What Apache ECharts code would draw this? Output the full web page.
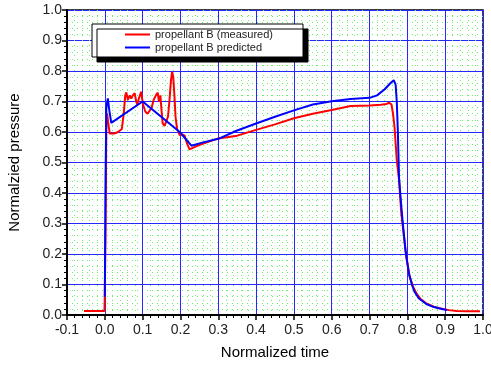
<!DOCTYPE html>
<html>
<head>
<meta charset="utf-8">
<script src="https://cdn.jsdelivr.net/npm/echarts@6/dist/echarts.min.js"></script>
<style>
  html, body { margin: 0; padding: 0; background: #fff; }
  #chart { width: 491px; height: 365px; }
</style>
</head>
<body>
<div id="chart"></div>
<script>
// Normalized time samples and pressure for the measured trace
const measuredTime = [-0.055, -0.001, 0.0, 0.002, 0.003, 0.004, 0.006, 0.009, 0.013, 0.017, 0.025, 0.035, 0.045,
  0.05, 0.054, 0.057, 0.061, 0.066, 0.07, 0.074, 0.079, 0.083, 0.086, 0.09, 0.096, 0.101, 0.107, 0.113, 0.118,
  0.124, 0.129, 0.135, 0.14, 0.143, 0.147, 0.15, 0.153, 0.158, 0.162, 0.167, 0.171, 0.175, 0.178, 0.181, 0.184,
  0.187, 0.191, 0.198, 0.205, 0.211, 0.218, 0.224, 0.24, 0.26, 0.3, 0.35, 0.4, 0.45, 0.5, 0.55, 0.6, 0.65, 0.7,
  0.73, 0.745, 0.752, 0.758, 0.762, 0.766, 0.772, 0.778, 0.784, 0.79, 0.797, 0.806, 0.815, 0.824, 0.835, 0.85,
  0.87, 0.885, 0.91, 0.93, 0.96, 0.992];
const measuredPressure = [0.013, 0.013, 0.065, 0.30, 0.45, 0.62, 0.66, 0.63, 0.595, 0.59, 0.595, 0.60, 0.61,
  0.66, 0.72, 0.73, 0.705, 0.72, 0.71, 0.72, 0.727, 0.70, 0.69, 0.71, 0.732, 0.69, 0.667, 0.66, 0.662,
  0.68, 0.705, 0.72, 0.729, 0.70, 0.72, 0.67, 0.628, 0.62, 0.623, 0.65, 0.705, 0.77, 0.798, 0.78, 0.72,
  0.65, 0.61, 0.59, 0.592, 0.588, 0.56, 0.543, 0.552, 0.562, 0.579, 0.588, 0.607, 0.625, 0.645, 0.66, 0.672, 0.685, 0.687,
  0.689, 0.692, 0.696, 0.69, 0.66, 0.617, 0.508, 0.443, 0.333, 0.268, 0.191, 0.126, 0.093, 0.071, 0.052, 0.038,
  0.027, 0.022, 0.016, 0.013, 0.012, 0.012];

// Normalized time samples and pressure for the predicted trace
const predictedTime = [0.0, 0.002, 0.004, 0.008, 0.012, 0.017, 0.1, 0.198, 0.229, 0.26, 0.303, 0.35, 0.4, 0.45,
  0.5, 0.55, 0.6, 0.65, 0.7, 0.72, 0.74, 0.755, 0.764, 0.769, 0.772, 0.775, 0.778, 0.783, 0.788, 0.795, 0.804,
  0.812, 0.819, 0.83, 0.85, 0.87, 0.894, 0.905];
const predictedPressure = [0.06, 0.45, 0.68, 0.71, 0.67, 0.63, 0.70, 0.60, 0.555, 0.566, 0.579, 0.605, 0.628, 0.65,
  0.671, 0.69, 0.701, 0.708, 0.712, 0.72, 0.74, 0.76, 0.77, 0.755, 0.70, 0.596, 0.45, 0.37, 0.30, 0.213, 0.137,
  0.10, 0.076, 0.055, 0.036, 0.026, 0.019, 0.016];

const seriesNames = ['propellant B (measured)', 'propellant B predicted'];

const pairs = (xs, ys) => xs.map((x, i) => [x, ys[i]]);

const font = 'Liberation Sans, Arial, sans-serif';

function valueAxis(extra) {
  return Object.assign({
    type: 'value',
    interval: 0.1,
    axisLine: { show: true, onZero: false, lineStyle: { color: '#000', width: 2 } },
    axisTick: { show: true, inside: false, length: 5, lineStyle: { color: '#000', width: 1.5 } },
    minorTick: { show: true, splitNumber: 5, length: 3, lineStyle: { color: '#000', width: 1 } },
    splitLine: { show: true, lineStyle: { color: '#2626ff', width: 1 } },
    minorSplitLine: { show: true, lineStyle: { color: '#66f266', width: 1, type: [1, 4] } },
    nameTextStyle: { color: '#000', fontFamily: font, fontSize: 15 }
  }, extra);
}

const chart = echarts.init(document.getElementById('chart'), null, { renderer: 'canvas' });
chart.setOption({
  animation: false,
  backgroundColor: '#fff',
  grid: {
    left: 67, right: 8, top: 10, bottom: 50,
    outerBoundsMode: 'none',
    containLabel: false,
    show: true, borderColor: '#000', borderWidth: 1.5, backgroundColor: 'transparent'
  },
  xAxis: valueAxis({
    min: -0.1, max: 1.0,
    name: 'Normalized time', nameLocation: 'middle', nameGap: 30,
    axisLabel: {
      color: '#222', fontFamily: font, fontSize: 14, margin: 8,
      formatter: v => v.toFixed(1)
    }
  }),
  yAxis: valueAxis({
    min: 0, max: 1.0,
    name: 'Normalzied pressure', nameLocation: 'middle', nameGap: 45,
    axisLabel: {
      color: '#222', fontFamily: font, fontSize: 14, margin: 5,
      formatter: v => v.toFixed(1)
    }
  }),
  legend: {
    left: 92, top: 24,
    orient: 'vertical',
    padding: [4, 30, 3, 33],
    itemGap: 0,
    itemWidth: 25, itemHeight: 2,
    icon: 'rect',
    backgroundColor: '#fff',
    borderColor: '#000', borderWidth: 1,
    shadowColor: '#000', shadowBlur: 0, shadowOffsetX: 5, shadowOffsetY: 5,
    textStyle: { color: '#222', fontFamily: font, fontSize: 11, lineHeight: 13 },
    data: seriesNames
  },
  series: [
    {
      name: seriesNames[0], type: 'line', showSymbol: false, symbol: 'none',
      data: pairs(measuredTime, measuredPressure),
      lineStyle: { color: '#ff0000', width: 2 }, itemStyle: { color: '#ff0000' }, z: 3
    },
    {
      name: seriesNames[1], type: 'line', showSymbol: false, symbol: 'none',
      data: pairs(predictedTime, predictedPressure),
      lineStyle: { color: '#0000ff', width: 2 }, itemStyle: { color: '#0000ff' }, z: 4
    }
  ]
});
</script>
</body>
</html>
